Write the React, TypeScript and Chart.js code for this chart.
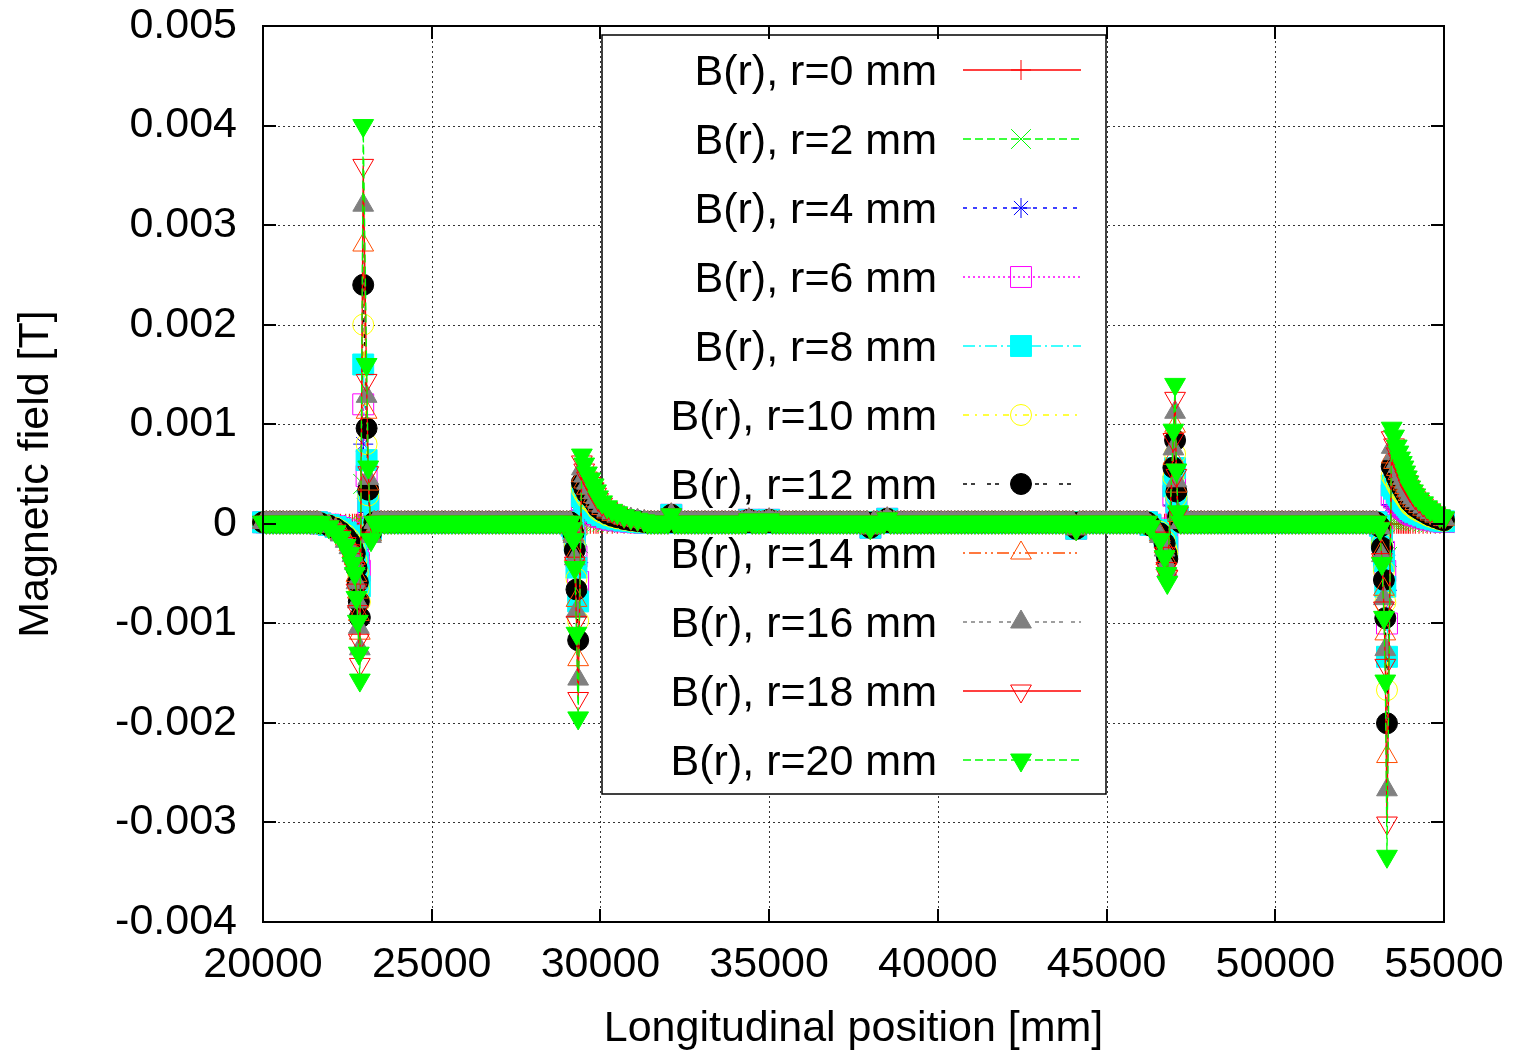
import React, { useEffect, useRef } from 'react';
import { Chart, registerables } from 'chart.js';

Chart.register(...registerables);

const FONT = '"Liberation Sans", Arial, Helvetica, sans-serif';
const FONT_SIZE = 43;

// ---- axes ----
const xMin = 20000;
const xMax = 55000;
const xStep = 5000;
const yMin = -0.004;
const yMax = 0.005;
const yStep = 0.001;
const xTitle = 'Longitudinal position [mm]';
const yTitle = 'Magnetic field [T]';

// ---- series ----
const seriesLabels = [
  'B(r), r=0 mm', 'B(r), r=2 mm', 'B(r), r=4 mm', 'B(r), r=6 mm', 'B(r), r=8 mm',
  'B(r), r=10 mm', 'B(r), r=12 mm', 'B(r), r=14 mm', 'B(r), r=16 mm', 'B(r), r=18 mm', 'B(r), r=20 mm',
];

// Flat stretches of the field (mm, µT) — the same for every radius
const baselinePositions = [
  20000, 20100, 20200, 20300, 20400, 20500, 20600, 20700, 20800, 20900,
  21000, 21100, 21200, 21300, 21400, 21500, 21600,
  23300, 23400, 23500, 23600, 23700, 23800, 23900, 24000, 24100, 24200,
  24300, 24400, 24500, 24600, 24700, 24800, 24900, 25000, 25100, 25200,
  25300, 25400, 25500, 25600, 25700, 25800, 25900, 26000, 26100, 26200,
  26300, 26400, 26500, 26600, 26700, 26800, 26900, 27000, 27100, 27200,
  27300, 27400, 27500, 27600, 27700, 27800, 27900, 28000, 28100, 28200,
  28300, 28400, 28500, 28600, 28700, 28800, 28900, 29000, 29100,
  31400, 31500, 31600, 31700, 31800, 31900, 32000, 32100, 32200, 32300,
  32400, 32500, 32600, 32700, 32800, 32900, 33000, 33100, 33200, 33300,
  33400, 33500, 33600, 33700, 33800, 33900, 34000, 34100, 34200, 34300,
  34400, 34500, 34600, 34700, 34800, 34900, 35000, 35100, 35200, 35300,
  35400, 35500, 35600, 35700, 35800, 35900, 36000, 36100, 36200, 36300,
  36400, 36500, 36600, 36700, 36800, 36900, 37000, 37100, 37200, 37300,
  37400, 37500, 37600, 37700, 37800, 37900, 38000, 38100, 38200, 38300,
  38400, 38500, 38600, 38700, 38800, 38900, 39000, 39100, 39200, 39300,
  39400, 39500, 39600, 39700, 39800, 39900, 40000, 40100, 40200, 40300,
  40400, 40500, 40600, 40700, 40800, 40900, 41000, 41100, 41200, 41300,
  41400, 41500, 41600, 41700, 41800, 41900, 42000, 42100, 42200, 42300,
  42400, 42500, 42600, 42700, 42800, 42900, 43000, 43100, 43200, 43300,
  43400, 43500, 43600, 43700, 43800, 43900, 44000, 44100, 44200, 44300,
  44400, 44500, 44600, 44700, 44800, 44900, 45000, 45100, 45200, 45300,
  45400, 45500, 45600, 45700, 45800, 45900, 46000, 46100, 46200,
  47200, 47300, 47400, 47500, 47600, 47700, 47800, 47900, 48000, 48100,
  48200, 48300, 48400, 48500, 48600, 48700, 48800, 48900, 49000, 49100,
  49200, 49300, 49400, 49500, 49600, 49700, 49800, 49900, 50000, 50100,
  50200, 50300, 50400, 50500, 50600, 50700, 50800, 50900, 51000, 51100,
  51200, 51300, 51400, 51500, 51600, 51700, 51800, 51900, 52000, 52100,
  52200, 52300, 52400, 52500, 52600, 52700, 52800, 52900, 53000,
];
const baselineField = [
  15, 15, 15, 15, 15, 15, 15, 15, 15, 15,
  15, 15, 15, 15, 15, 15, 15,
  15, 15, 15, 15, 15, 15, 15, 15, 15, 15,
  15, 15, 15, 15, 15, 15, 15, 15, 15, 15,
  15, 15, 15, 15, 15, 15, 15, 15, 15, 15,
  15, 15, 15, 15, 15, 15, 15, 15, 15, 15,
  15, 15, 15, 15, 15, 15, 15, 15, 15, 15,
  15, 15, 15, 15, 15, 15, 15, 15, 15,
  15, 15, 15, 15, 15, 15, 15, 90, 15, 15,
  15, 15, 15, 15, 15, 15, 15, 15, 15, 15,
  15, 15, 15, 15, 15, 15, 15, 15, 15, 15,
  40, 15, 15, 15, 15, 15, 40, 15, 15, 15,
  15, 15, 15, 15, 15, 15, 15, 15, 15, 15,
  15, 15, 15, 15, 15, 15, 15, 15, 15, 15,
  15, 15, 15, 15, 15, 15, -40, 15, 15, 15,
  15, 50, 15, 15, 15, 15, 15, 15, 15, 15,
  15, 15, 15, 15, 15, 15, 15, 15, 15, 15,
  15, 15, 15, 15, 15, 15, 15, 15, 15, 15,
  15, 15, 15, 15, 15, 15, 15, 15, 15, 15,
  15, 15, 15, 15, 15, 15, 15, 15, 15, 15,
  15, 15, 15, 15, 15, 15, 15, -50, 15, 15,
  15, 15, 15, 15, 15, 15, 15, 15, 15, 15,
  15, 15, 15, 15, 15, 15, 15, 15, 15,
  15, 15, 15, 15, 15, 15, 15, 15, 15, 15,
  15, 15, 15, 15, 15, 15, 15, 15, 15, 15,
  15, 15, 15, 15, 15, 15, 15, 15, 15, 15,
  15, 15, 15, 15, 15, 15, 15, 15, 15, 15,
  15, 15, 15, 15, 15, 15, 15, 15, 15, 15,
  15, 15, 15, 15, 15, 15, 15, 15, 15,
];

// Positions (mm) around the four magnet edges
const peakPositions = [
  21700, 21950, 22150, 22300, 22450, 22560, 22650, 22720, 22770, 22810, 22840, 22870, 22970, 23070, 23120, 23200,
  29150, 29200, 29240, 29290, 29340, 29450, 29520, 29600, 29700, 29800, 29870, 29930, 30050, 30200, 30350, 30500, 30700, 30900, 31100, 31300,
  46300, 46580, 46720, 46770, 46800, 46980, 47030, 47070, 47120,
  53100, 53160, 53220, 53260, 53310, 53450, 53520, 53600, 53650, 53700, 53750, 53800, 53850, 53900, 53950, 54000, 54080, 54150, 54260, 54380, 54500, 54600, 54740, 54880, 55000,
];
// Field values (µT) at peakPositions, one array per radius
const fieldR0 = [
  0, 0, 0, 0, 0, 0, 0, 0, 0, 0, 0, 0, 0, 0, 0, 0,
  0, 0, 0, 0, 0, 0, 0, 0, 0, 0, 0, 0, 0, 0, 0, 0, 0, 0, 0, 0,
  0, 0, 0, 0, 0, 0, 0, 0, 0,
  0, 0, 0, 0, 0, 0, 0, 0, 0, 0, 0, 0, 0, 0, 0, 0, 0, 0, 0, 0, 0, 0, 0, 0, 0,
];
const fieldR2 = [
  1, -3, -8, -14, -22, -30, -40, -50, -74, -98, -130, -157, 400, 160, 57, -16,
  -5, -16, -44, -110, -195, 69, 60, 51, 45, 39, 33, 27, 22, 17, 14, 11, 8, 6, 5, 3,
  -3, -16, -33, -50, -59, 94, 140, 54, 12,
  -5, -40, -94, -158, -334, 96, 88, 78, 72, 66, 62, 57, 52, 47, 42, 37, 33, 29, 25, 21, 17, 14, 11, 8, 6,
];
const fieldR4 = [
  2, -6, -16, -28, -44, -60, -80, -100, -148, -196, -260, -314, 800, 320, 114, -32,
  -10, -32, -88, -220, -390, 138, 120, 102, 90, 78, 66, 54, 44, 34, 27, 22, 16, 12, 9, 6,
  -6, -32, -66, -100, -118, 188, 280, 108, 24,
  -10, -80, -188, -316, -668, 192, 176, 156, 144, 132, 123, 114, 104, 94, 84, 74, 66, 58, 50, 42, 34, 28, 22, 16, 12,
];
const fieldR6 = [
  3, -9, -24, -42, -66, -90, -120, -150, -222, -294, -390, -471, 1200, 480, 171, -48,
  -15, -48, -132, -330, -585, 207, 180, 153, 135, 117, 99, 81, 66, 51, 41, 33, 24, 18, 14, 9,
  -9, -48, -99, -150, -177, 282, 420, 162, 36,
  -15, -120, -282, -474, -1002, 288, 264, 234, 216, 198, 185, 171, 156, 141, 126, 111, 99, 87, 75, 63, 51, 42, 33, 24, 18,
];
const fieldR8 = [
  4, -12, -32, -56, -88, -120, -160, -200, -296, -392, -520, -628, 1600, 640, 228, -64,
  -20, -64, -176, -440, -780, 276, 240, 204, 180, 156, 132, 108, 88, 68, 54, 44, 32, 24, 18, 12,
  -12, -64, -132, -200, -236, 376, 560, 216, 48,
  -20, -160, -376, -632, -1336, 384, 352, 312, 288, 264, 246, 228, 208, 188, 168, 148, 132, 116, 100, 84, 68, 56, 44, 32, 24,
];
const fieldR10 = [
  5, -15, -40, -70, -110, -150, -200, -250, -370, -490, -650, -785, 2000, 800, 285, -80,
  -25, -80, -220, -550, -975, 345, 300, 255, 225, 195, 165, 135, 110, 85, 68, 55, 40, 30, 23, 15,
  -15, -80, -165, -250, -295, 470, 700, 270, 60,
  -25, -200, -470, -790, -1670, 480, 440, 390, 360, 330, 308, 285, 260, 235, 210, 185, 165, 145, 125, 105, 85, 70, 55, 40, 30,
];
const fieldR12 = [
  6, -18, -48, -84, -132, -180, -240, -300, -444, -588, -780, -942, 2400, 960, 342, -96,
  -30, -96, -264, -660, -1170, 414, 360, 306, 270, 234, 198, 162, 132, 102, 81, 66, 48, 36, 27, 18,
  -18, -96, -198, -300, -354, 564, 840, 324, 72,
  -30, -240, -564, -948, -2004, 576, 528, 468, 432, 396, 369, 342, 312, 282, 252, 222, 198, 174, 150, 126, 102, 84, 66, 48, 36,
];
const fieldR14 = [
  7, -21, -56, -98, -154, -210, -280, -350, -518, -686, -910, -1099, 2800, 1120, 399, -112,
  -35, -112, -308, -770, -1365, 483, 420, 357, 315, 273, 231, 189, 154, 119, 95, 77, 56, 42, 32, 21,
  -21, -112, -231, -350, -413, 658, 980, 378, 84,
  -35, -280, -658, -1106, -2338, 672, 616, 546, 504, 462, 431, 399, 364, 329, 294, 259, 231, 203, 175, 147, 119, 98, 77, 56, 42,
];
const fieldR16 = [
  8, -24, -64, -112, -176, -240, -320, -400, -592, -784, -1040, -1256, 3200, 1280, 456, -128,
  -40, -128, -352, -880, -1560, 552, 480, 408, 360, 312, 264, 216, 176, 136, 108, 88, 64, 48, 36, 24,
  -24, -128, -264, -400, -472, 752, 1120, 432, 96,
  -40, -320, -752, -1264, -2672, 768, 704, 624, 576, 528, 492, 456, 416, 376, 336, 296, 264, 232, 200, 168, 136, 112, 88, 64, 48,
];
const fieldR18 = [
  9, -27, -72, -126, -198, -270, -360, -450, -666, -882, -1170, -1413, 3600, 1440, 513, -144,
  -45, -144, -396, -990, -1755, 621, 540, 459, 405, 351, 297, 243, 198, 153, 122, 99, 72, 54, 41, 27,
  -27, -144, -297, -450, -531, 846, 1260, 486, 108,
  -45, -360, -846, -1422, -3006, 864, 792, 702, 648, 594, 554, 513, 468, 423, 378, 333, 297, 261, 225, 189, 153, 126, 99, 72, 54,
];
const fieldR20 = [
  10, -30, -80, -140, -220, -300, -400, -500, -740, -980, -1300, -1570, 4000, 1600, 570, -160,
  -50, -160, -440, -1100, -1950, 690, 600, 510, 450, 390, 330, 270, 220, 170, 135, 110, 80, 60, 45, 30,
  -30, -160, -330, -500, -590, 940, 1400, 540, 120,
  -50, -400, -940, -1580, -3340, 960, 880, 780, 720, 660, 615, 570, 520, 470, 420, 370, 330, 290, 250, 210, 170, 140, 110, 80, 60,
];
const seriesFields = [fieldR0, fieldR2, fieldR4, fieldR6, fieldR8, fieldR10, fieldR12, fieldR14, fieldR16, fieldR18, fieldR20];

// ---- styles (gnuplot postscript line types 1..11) ----
type Style = { color: string; dash: number[]; pointStyle: string; radius: number; filled: boolean; rotation: number };
const seriesStyles: Style[] = [
  { color: '#ff0000', dash: [], pointStyle: 'cross', radius: 10, filled: false, rotation: 0 },
  { color: '#00ff00', dash: [8, 4], pointStyle: 'crossRot', radius: 14, filled: false, rotation: 0 },
  { color: '#0000ff', dash: [4, 6], pointStyle: 'star', radius: 10, filled: false, rotation: 0 },
  { color: '#ff00ff', dash: [2, 3], pointStyle: 'rect', radius: 14.8, filled: false, rotation: 0 },
  { color: '#00ffff', dash: [12, 4, 2, 4], pointStyle: 'rect', radius: 14.8, filled: true, rotation: 0 },
  { color: '#ffff00', dash: [6, 6, 2, 6], pointStyle: 'circle', radius: 10.5, filled: false, rotation: 0 },
  { color: '#000000', dash: [4, 4, 4, 12], pointStyle: 'circle', radius: 10.5, filled: true, rotation: 0 },
  { color: '#ff4d00', dash: [2, 4, 12, 4, 2, 4], pointStyle: 'triangle', radius: 12, filled: false, rotation: 0 },
  { color: '#808080', dash: [4, 4, 4, 4, 4, 4, 4, 8], pointStyle: 'triangle', radius: 12, filled: true, rotation: 0 },
  { color: '#ff0000', dash: [], pointStyle: 'triangle', radius: 12, filled: false, rotation: 180 },
  { color: '#00ff00', dash: [8, 4], pointStyle: 'triangle', radius: 12, filled: true, rotation: 180 },
];

function drawMarker(ctx: CanvasRenderingContext2D, st: Style, x: number, y: number) {
  const r = st.radius;
  ctx.save();
  ctx.setLineDash([]);
  ctx.lineWidth = 1;
  ctx.strokeStyle = st.color;
  ctx.fillStyle = st.color;
  ctx.beginPath();
  const cross = () => { ctx.moveTo(x, y - r); ctx.lineTo(x, y + r); ctx.moveTo(x - r, y); ctx.lineTo(x + r, y); };
  const crossRot = () => {
    const o = r * Math.SQRT1_2;
    ctx.moveTo(x - o, y - o); ctx.lineTo(x + o, y + o);
    ctx.moveTo(x + o, y - o); ctx.lineTo(x - o, y + o);
  };
  if (st.pointStyle === 'cross') cross();
  else if (st.pointStyle === 'crossRot') crossRot();
  else if (st.pointStyle === 'star') { cross(); crossRot(); }
  else if (st.pointStyle === 'rect') { const s = r * Math.SQRT1_2; ctx.rect(x - s, y - s, 2 * s, 2 * s); }
  else if (st.pointStyle === 'circle') ctx.arc(x, y, r, 0, Math.PI * 2);
  else if (st.pointStyle === 'triangle') {
    let rad = (st.rotation * Math.PI) / 180;
    ctx.moveTo(x + Math.sin(rad) * r, y - Math.cos(rad) * r);
    rad += (2 * Math.PI) / 3;
    ctx.lineTo(x + Math.sin(rad) * r, y - Math.cos(rad) * r);
    rad += (2 * Math.PI) / 3;
    ctx.lineTo(x + Math.sin(rad) * r, y - Math.cos(rad) * r);
    ctx.closePath();
  }
  if (st.filled) ctx.fill();
  ctx.stroke();
  ctx.restore();
}

const gnuplotPlugin = {
  id: 'gnuplotFrame',
  beforeDatasetsDraw(chart: any) {
    const { ctx, chartArea: a, scales } = chart;
    const xs = scales.x;
    const ys = scales.y;
    ctx.save();
    // dotted grid
    ctx.strokeStyle = 'rgba(0,0,0,0.8)';
    ctx.lineWidth = 1;
    ctx.setLineDash([2, 3]);
    xs.ticks.forEach((t: any) => {
      if (t.value <= xMin || t.value >= xMax) return;
      const px = Math.round(xs.getPixelForValue(t.value)) + 0.5;
      ctx.beginPath(); ctx.moveTo(px, a.top); ctx.lineTo(px, a.bottom); ctx.stroke();
    });
    ys.ticks.forEach((t: any) => {
      if (t.value <= yMin + 1e-9 || t.value >= yMax - 1e-9) return;
      const py = Math.round(ys.getPixelForValue(t.value)) + 0.5;
      ctx.beginPath(); ctx.moveTo(a.left, py); ctx.lineTo(a.right, py); ctx.stroke();
    });
    ctx.setLineDash([]);
    // key box
    const bx = 602, by = 35, bw = 504, bh = 759;
    ctx.fillStyle = '#ffffff';
    ctx.fillRect(bx, by, bw, bh);
    ctx.strokeStyle = '#000';
    ctx.lineWidth = 1.5;
    ctx.strokeRect(bx, by, bw, bh);
    ctx.font = `${FONT_SIZE}px ${FONT}`;
    ctx.textAlign = 'right';
    ctx.textBaseline = 'alphabetic';
    seriesLabels.forEach((label, i) => {
      const y = 70 + 69 * i;
      const st = seriesStyles[i];
      ctx.fillStyle = '#000';
      ctx.fillText(label, 937, y + 15);
      ctx.save();
      ctx.strokeStyle = st.color;
      ctx.lineWidth = 1.5;
      ctx.setLineDash(st.dash);
      ctx.beginPath(); ctx.moveTo(963, y); ctx.lineTo(1081, y); ctx.stroke();
      ctx.restore();
      drawMarker(ctx, st, 1021, y);
    });
    ctx.restore();
  },
  afterDatasetsDraw(chart: any) {
    const { ctx, chartArea: a, scales } = chart;
    const xs = scales.x;
    const ys = scales.y;
    ctx.save();
    ctx.strokeStyle = '#000';
    ctx.lineWidth = 2;
    ctx.setLineDash([]);
    ctx.strokeRect(a.left, a.top, a.right - a.left, a.bottom - a.top);
    const L = 13;
    ctx.beginPath();
    xs.ticks.forEach((t: any) => {
      if (t.value <= xMin || t.value >= xMax) return;
      const px = Math.round(xs.getPixelForValue(t.value));
      ctx.moveTo(px, a.bottom); ctx.lineTo(px, a.bottom - L);
      ctx.moveTo(px, a.top); ctx.lineTo(px, a.top + L);
    });
    ys.ticks.forEach((t: any) => {
      if (t.value <= yMin + 1e-9 || t.value >= yMax - 1e-9) return;
      const py = Math.round(ys.getPixelForValue(t.value));
      ctx.moveTo(a.left, py); ctx.lineTo(a.left + L, py);
      ctx.moveTo(a.right, py); ctx.lineTo(a.right - L, py);
    });
    ctx.stroke();
    ctx.restore();
  },
};

function formatField(v: number) {
  const n = Math.round(v * 1000) / 1000;
  return n === 0 ? '0' : String(n);
}

export default function App() {
  const ref = useRef<HTMLCanvasElement>(null);
  useEffect(() => {
    if (!ref.current) return;
    const datasets = seriesFields.map((field, i) => {
      const st = seriesStyles[i];
      const points = baselinePositions
        .map((x, k) => ({ x, y: baselineField[k] * 1e-6 }))
        .concat(peakPositions.map((x, k) => ({ x, y: field[k] * 1e-6 })))
        .sort((p, q) => p.x - q.x);
      return {
        label: seriesLabels[i],
        data: points,
        borderColor: st.color,
        borderWidth: 1.3,
        borderDash: st.dash,
        pointStyle: st.pointStyle,
        pointRadius: st.radius,
        pointHoverRadius: st.radius,
        pointRotation: st.rotation,
        pointBackgroundColor: st.filled ? st.color : 'rgba(0,0,0,0)',
        pointBorderColor: st.color,
        pointBorderWidth: 1,
        fill: false,
        tension: 0,
        order: seriesFields.length - 1 - i,
        clip: { left: 16, right: 16, top: 16, bottom: 16 },
      };
    });
    const tickFont = { family: FONT, size: FONT_SIZE };
    const chart = new Chart(ref.current, {
      type: 'line',
      data: { datasets } as any,
      options: {
        animation: false,
        responsive: true,
        maintainAspectRatio: false,
        events: [],
        layout: { padding: { left: 0, top: 26, right: 75, bottom: 0 } },
        plugins: { legend: { display: false }, tooltip: { enabled: false }, title: { display: false } },
        scales: {
          x: {
            type: 'linear',
            min: xMin,
            max: xMax,
            afterFit: (s: any) => { s.height = 133; s.paddingLeft = 0; s.paddingRight = 0; },
            grid: { display: false, drawTicks: false },
            border: { display: false },
            ticks: {
              stepSize: xStep,
              padding: 17,
              color: '#000',
              font: tickFont,
              maxRotation: 0,
              autoSkip: false,
              callback: (v: any) => String(v),
            },
            title: { display: true, text: xTitle, color: '#000', font: tickFont, padding: { top: 0, bottom: 0 } },
          },
          y: {
            type: 'linear',
            min: yMin,
            max: yMax,
            afterFit: (s: any) => { s.width = 263; s.paddingTop = 0; s.paddingBottom = 0; },
            grid: { display: false, drawTicks: false },
            border: { display: false },
            ticks: {
              stepSize: yStep,
              padding: 26,
              color: '#000',
              font: tickFont,
              autoSkip: false,
              callback: (v: any) => formatField(Number(v)),
            },
            title: { display: true, text: yTitle, color: '#000', font: tickFont, padding: { top: 10, bottom: 0 } },
          },
        },
      } as any,
      plugins: [gnuplotPlugin],
    });
    return () => chart.destroy();
  }, []);
  return (
    <div style={{ position: 'absolute', left: 0, top: 0, width: 1519, height: 1055, background: '#fff' }}>
      <canvas ref={ref} />
    </div>
  );
}
